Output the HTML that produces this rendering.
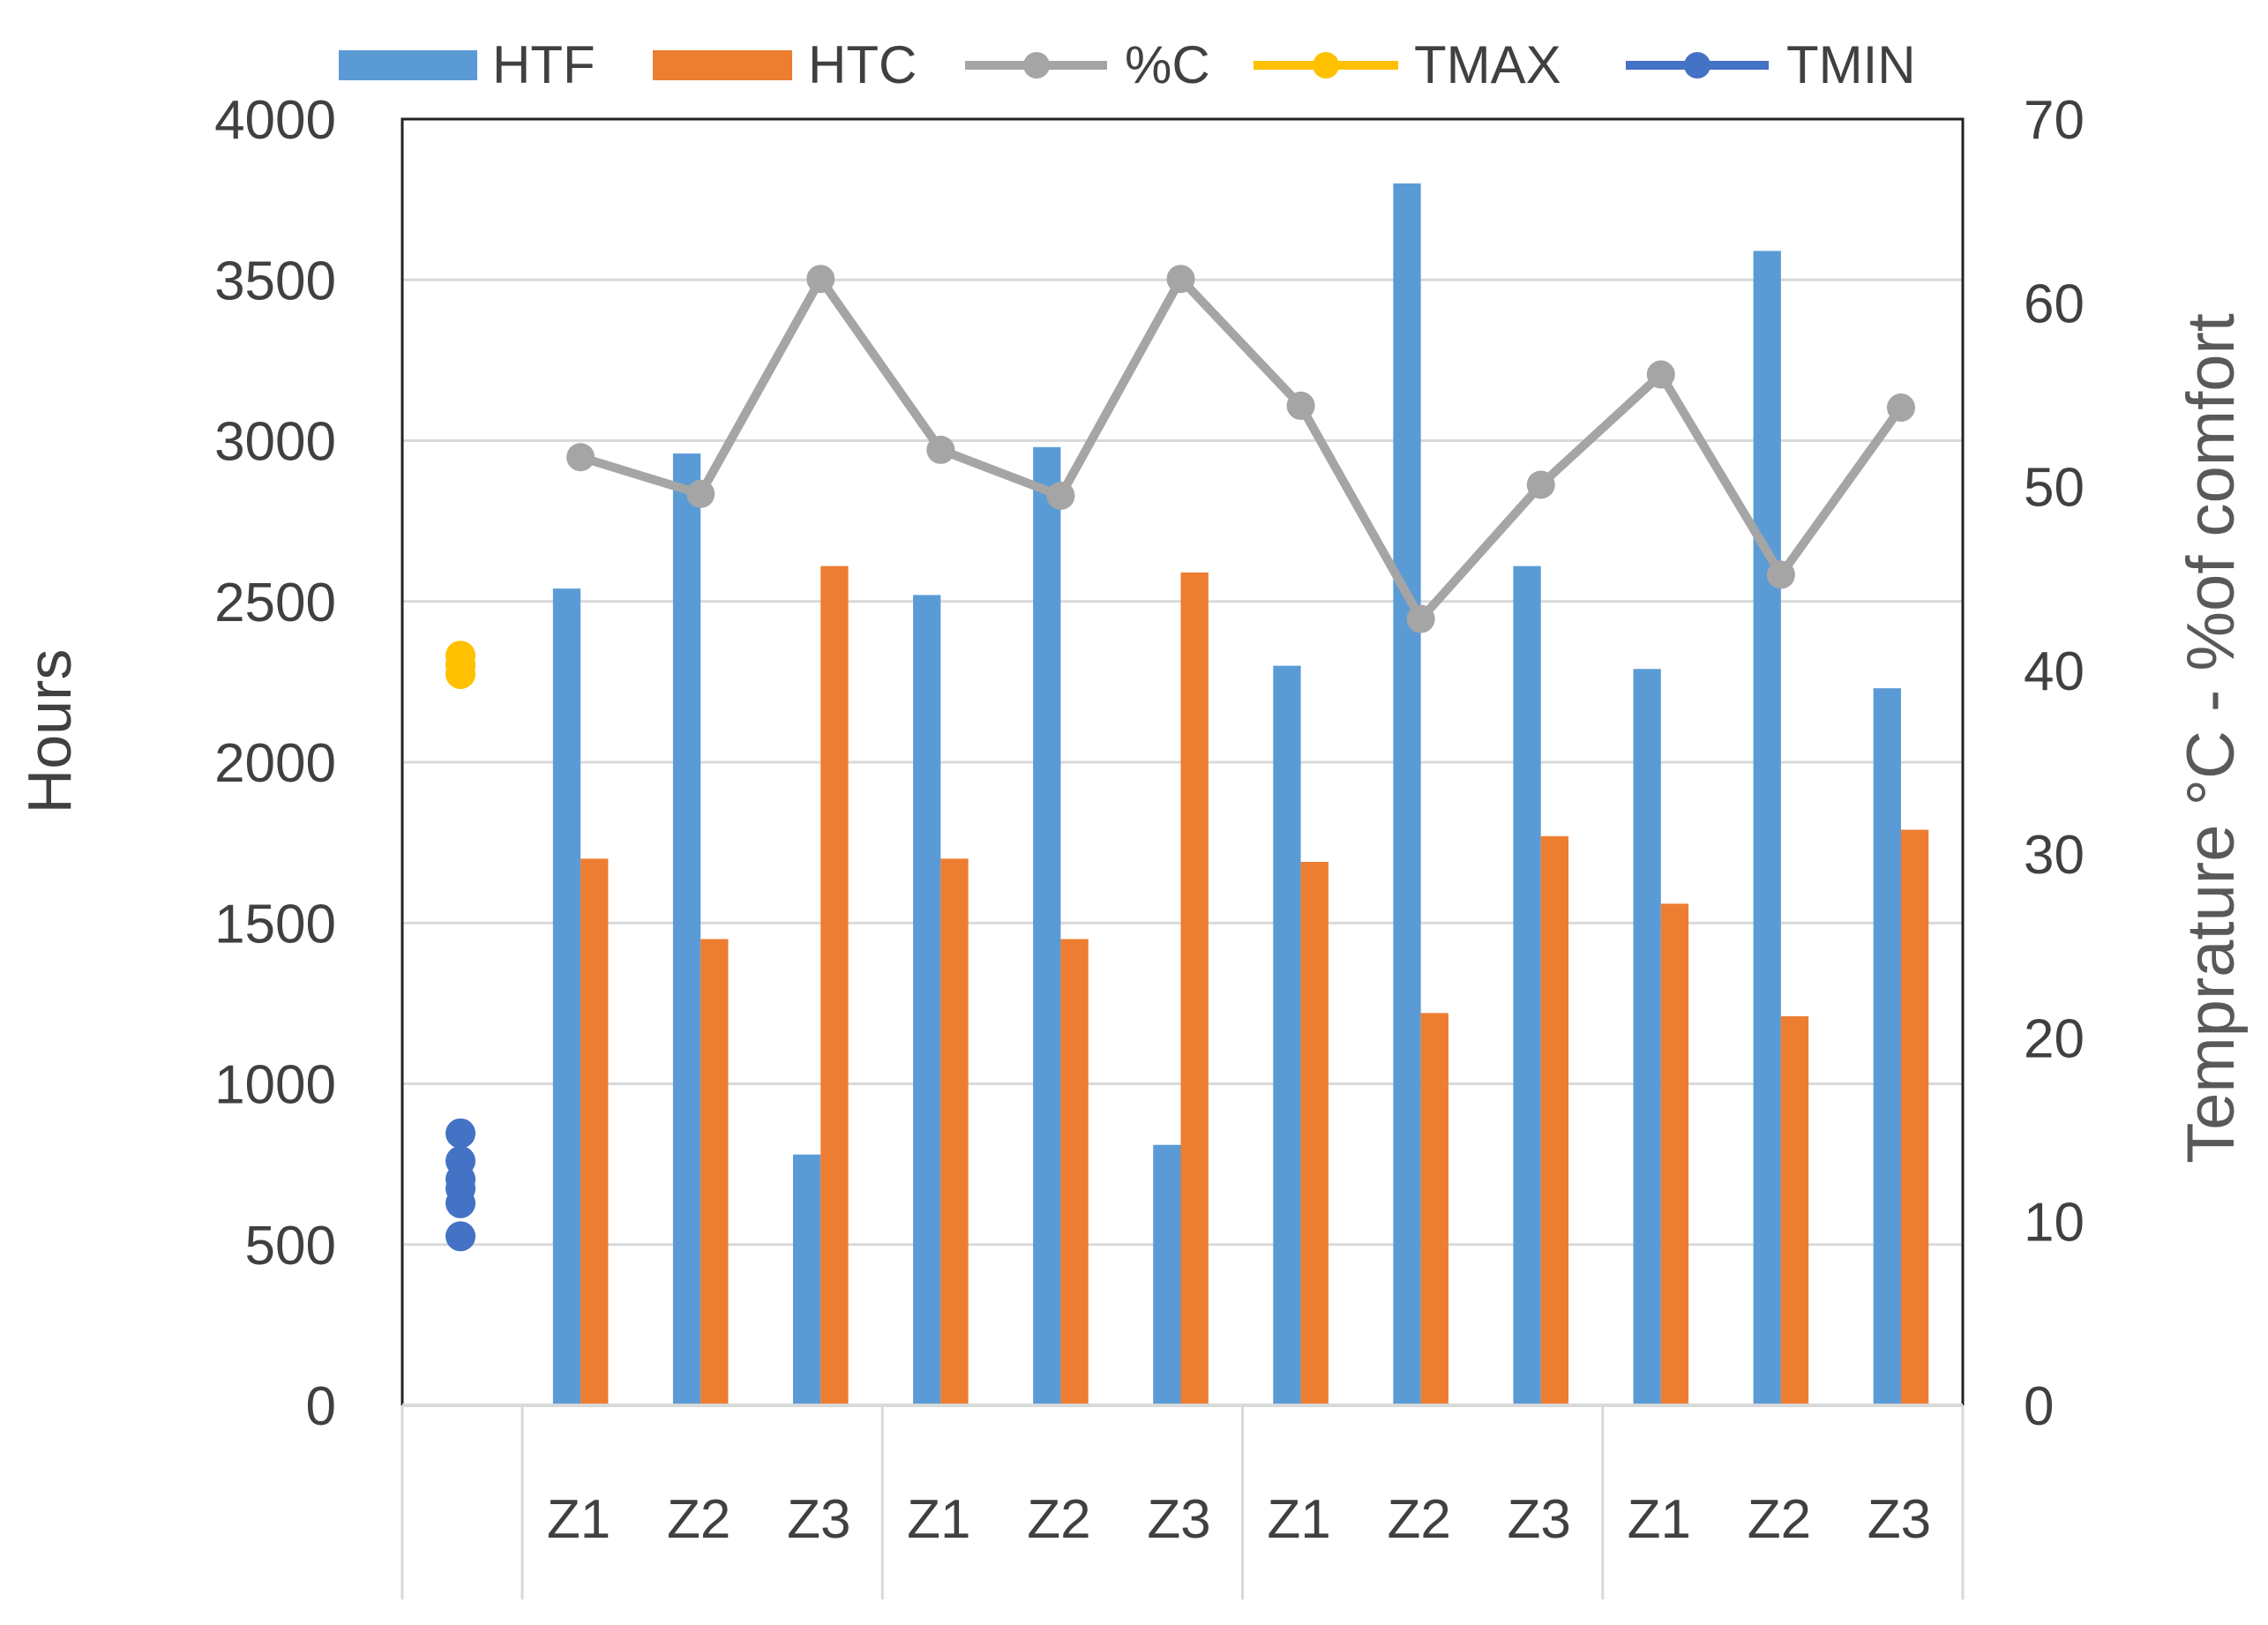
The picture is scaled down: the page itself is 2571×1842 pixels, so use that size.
<!DOCTYPE html>
<html><head><meta charset="utf-8"><style>
html,body{margin:0;padding:0;background:#fff;}
svg{display:block;font-family:"Liberation Sans",sans-serif;}
</style></head><body>
<svg id="chart" width="2571" height="1842" viewBox="0 0 2571 1842" xmlns="http://www.w3.org/2000/svg">
<g id="grid"></g>
<g id="bars"></g>
<g id="lines"></g>
<rect x="456" y="135" width="1769" height="1458" fill="none" stroke="#222" stroke-width="3"/>
<g id="axes"></g>
<g font-size="60" fill="#404040">
  <rect x="384" y="57" width="157" height="34" fill="#5B9BD5"/>
  <text x="558" y="94">HTF</text>
  <rect x="740" y="57" width="158" height="34" fill="#ED7D31"/>
  <text x="916" y="94">HTC</text>
  <line x1="1094" y1="74" x2="1255" y2="74" stroke="#A5A5A5" stroke-width="10"/>
  <circle cx="1175" cy="74" r="15" fill="#A5A5A5"/>
  <text x="1275" y="94">%C</text>
  <line x1="1421" y1="74" x2="1585" y2="74" stroke="#FFC000" stroke-width="10"/>
  <circle cx="1503" cy="74" r="15" fill="#FFC000"/>
  <text x="1603" y="94">TMAX</text>
  <line x1="1843" y1="74" x2="2005" y2="74" stroke="#4472C4" stroke-width="10"/>
  <circle cx="1924" cy="74" r="15" fill="#4472C4"/>
  <text x="2025" y="94">TMIN</text>
</g>
<text transform="translate(80,829) rotate(-90)" text-anchor="middle" font-size="70" fill="#404040">Hours</text>
<text transform="translate(2532,837) rotate(-90)" text-anchor="middle" font-size="76" fill="#595959">Temprature °C -  %of comfort</text>
</svg>
<script>
const categories = ["", "Z1","Z2","Z3","Z1","Z2","Z3","Z1","Z2","Z3","Z1","Z2","Z3"];
const htf = [null, 2540, 2960, 780, 2520, 2980, 810, 2300, 3800, 2610, 2290, 3590, 2230];
const htc = [null, 1700, 1450, 2610, 1700, 1450, 2590, 1690, 1220, 1770, 1560, 1210, 1790];
const pctC = [null, 51.6, 49.6, 61.3, 52.0, 49.5, 61.3, 54.4, 42.8, 50.1, 56.1, 45.2, 54.3];
const tmax = [40.8, 40.3, 39.8];
const tmin = [14.8, 13.3, 12.3, 11.8, 11.0, 9.2];
const leftTicks = [0,500,1000,1500,2000,2500,3000,3500,4000];
const rightTicks = [0,10,20,30,40,50,60,70];

const NS = "http://www.w3.org/2000/svg";
const X0 = 456, X1 = 2225, Y0 = 1593, Y1 = 135;
const slotW = (X1 - X0) / categories.length;
const barW = slotW * 0.23;
const yL = v => Y0 - (v / 4000) * (Y0 - Y1);
const yR = v => Y0 - (v / 70) * (Y0 - Y1);
const xC = i => X0 + slotW * (i + 0.5) - 2;
function mk(tag, attrs, parent) {
  const e = document.createElementNS(NS, tag);
  for (const k in attrs) e.setAttribute(k, attrs[k]);
  parent.appendChild(e);
  return e;
}
const grid = document.getElementById('grid');
const axes = document.getElementById('axes');
const bars = document.getElementById('bars');
const lines = document.getElementById('lines');

leftTicks.forEach(t => {
  if (t > 0 && t < 4000) {
    const g = mk('line', {x1: X0, x2: X1, y1: yL(t), y2: yL(t), stroke: '#D9D9D9', 'stroke-width': 3}, grid);
    
    
  }
  const tx = mk('text', {x: 381, y: yL(t) + 22, 'text-anchor': 'end', 'font-size': 62, fill: '#404040'}, axes);
  tx.textContent = t;
  
  
});
rightTicks.forEach(t => {
  const tx = mk('text', {x: 2294, y: yR(t) + 22, 'font-size': 62, fill: '#404040'}, axes);
  tx.textContent = t;
  
  
});
[0, 1, 4, 7, 10, 13].forEach(i => {
  const l = mk('line', {x1: X0 + slotW * i, x2: X0 + slotW * i, y1: Y0, y2: 1813, stroke: '#D9D9D9', 'stroke-width': 3}, axes);
  
  
});
const base = mk('line', {x1: X0, x2: X1, y1: Y0, y2: Y0, stroke: '#D9D9D9', 'stroke-width': 4}, axes);


categories.forEach((c, i) => {
  if (!c) return;
  const tx = mk('text', {x: xC(i) - 2, y: 1743, 'text-anchor': 'middle', 'font-size': 62, fill: '#404040'}, axes);
  tx.textContent = c;
  
  
});
htf.forEach((v, i) => {
  if (v == null) return;
  const r = mk('rect', {x: xC(i) - barW, y: yL(v), width: barW, height: Y0 - yL(v), fill: '#5B9BD5'}, bars);
  
  
});
htc.forEach((v, i) => {
  if (v == null) return;
  const r = mk('rect', {x: xC(i), y: yL(v), width: barW, height: Y0 - yL(v), fill: '#ED7D31'}, bars);
  
  
});
const pts = [];
pctC.forEach((v, i) => { if (v != null) pts.push([xC(i), yR(v)]); });
const pl = mk('polyline', {points: pts.map(p => p.join(',')).join(' '), fill: 'none', stroke: '#A5A5A5', 'stroke-width': 10, 'stroke-linejoin': 'round'}, lines);


pts.forEach(p => {
  const c = mk('circle', {cx: p[0], cy: p[1], r: 16, fill: '#A5A5A5'}, lines);
  
  
});
tmax.forEach(v => {
  const c = mk('circle', {cx: xC(0), cy: yR(v), r: 17, fill: '#FFC000'}, lines);
  
  
});
tmin.forEach(v => {
  const c = mk('circle', {cx: xC(0), cy: yR(v), r: 17, fill: '#4472C4'}, lines);
  
  
});
</script>
</body></html>
